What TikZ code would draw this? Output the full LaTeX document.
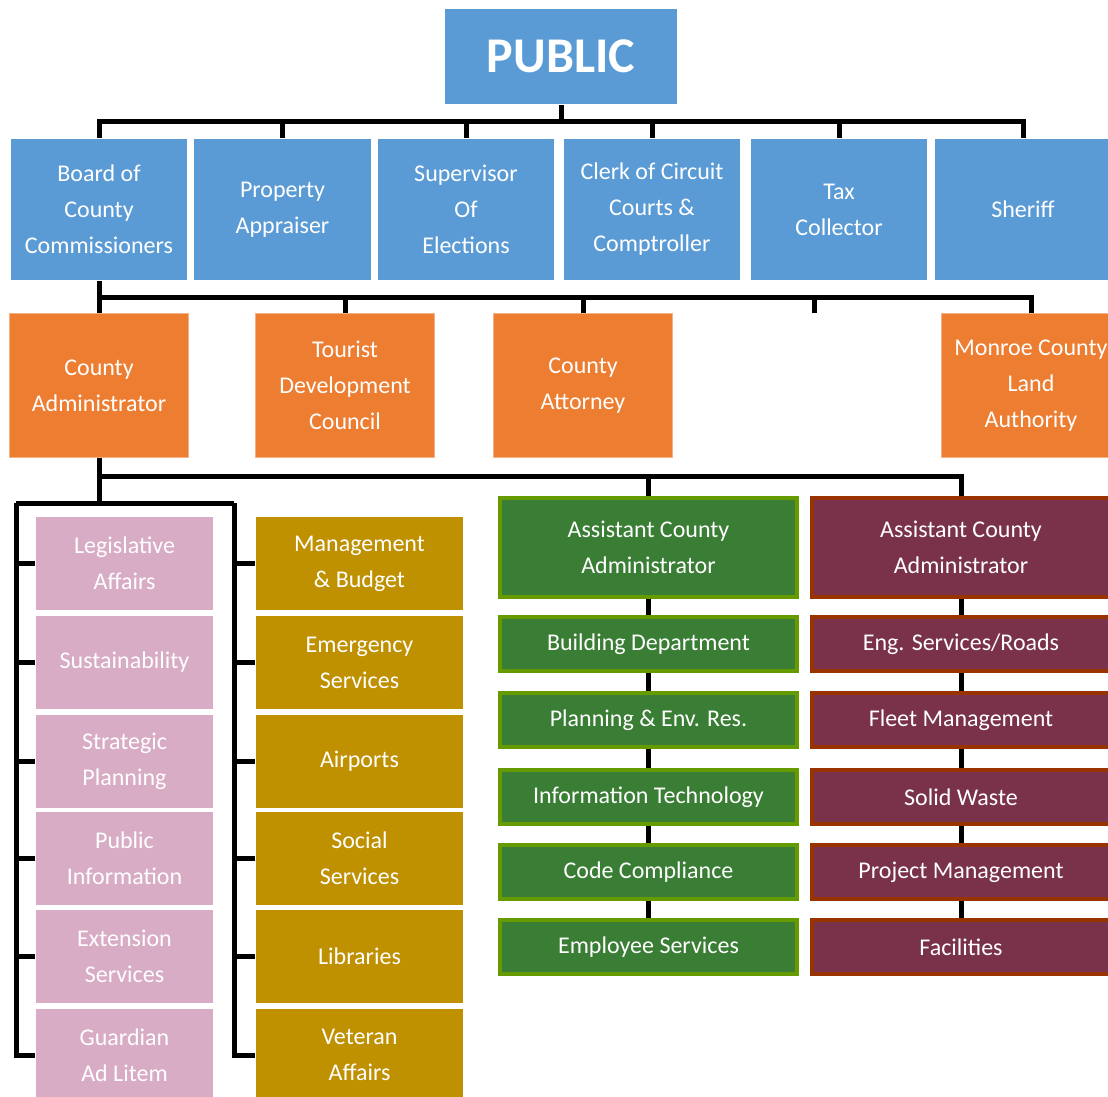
\documentclass[tikz,border=0pt]{standalone}
\usepackage{fontspec}
\setmainfont{Carlito}
\usepackage{xcolor}

\definecolor{boardblue}{RGB}{91,155,213}
\definecolor{officeorange}{RGB}{237,125,49}
\definecolor{staffpink}{RGB}{216,172,196}
\definecolor{deptgold}{RGB}{191,144,0}
\definecolor{acagreen}{RGB}{58,125,52}
\definecolor{acagreenline}{RGB}{102,155,0}
\definecolor{acamaroon}{RGB}{122,50,74}
\definecolor{acamaroonline}{RGB}{153,51,0}

\begin{document}
\begin{tikzpicture}[x=1pt,y=1pt,yscale=-1,
  box/.style={inner sep=0pt,align=center,text=white,font=\fontsize{24}{36}\selectfont},
  topbox/.style={box,fill=boardblue,draw=white,line width=1.5pt,minimum width=178,minimum height=142},
  officebox/.style={box,fill=officeorange,draw=officeorange!60!white,line width=0.8pt,minimum width=179,minimum height=144},
  pinkbox/.style={box,fill=staffpink,draw=white,line width=1pt,minimum width=178,minimum height=94},
  goldbox/.style={box,fill=deptgold,draw=white,line width=1pt,minimum width=208,minimum height=94},
  greenbox/.style={box,fill=acagreen,draw=acagreenline,line width=4pt,minimum width=297,minimum height=54},
  maroonbox/.style={box,fill=acamaroon,draw=acamaroonline,line width=4pt,minimum width=298,minimum height=54},
  wire/.style={line width=5pt,line join=miter}]
\useasboundingbox (0,0) rectangle (1108,1096);

%Shape: Rectangle -- top
\node[box,fill=boardblue,draw=white,line width=1pt,minimum width=233,minimum height=96,
  font=\fontsize{50}{60}\selectfont\bfseries] (public) at (561,56.5) {PUBLIC};

%Shape: Rectangle -- elected offices
\node[topbox] (board)   at (99,209.5)   {Board of\\County\\Commissioners};
\node[topbox] (prop)    at (282.5,209.5) {Property\\Appraiser};
\node[topbox] (super)   at (466,209.5)  {Supervisor\\Of\\Elections};
\node[topbox] (clerk)   at (652,209.5)  {Clerk of Circuit\\Courts \&\\Comptroller};
\node[topbox] (tax)     at (839,209.5)  {Tax\\Collector};
\node[topbox] (sheriff) at (1023,209.5) {Sheriff};

%Shape: Rectangle -- board appointees
\node[officebox] (cadmin) at (99,385.5)  {County\\Administrator};
\node[officebox] (tdc)    at (345,385.5) {Tourist\\Development\\Council};
\node[officebox] (atty)   at (583,385.5) {County\\Attorney};
\node[officebox] (land)   at (1031,385.5) {Monroe County\\Land\\Authority};

%Shape: Rectangle -- staff offices
\node[pinkbox] (legis)    at (124.5,563.5) {Legislative\\Affairs};
\node[pinkbox] (sustain)  at (124.5,662.5) {Sustainability};
\node[pinkbox] (strat)    at (124.5,761)   {Strategic\\Planning};
\node[pinkbox] (pubinfo)  at (124.5,858.5) {Public\\Information};
\node[pinkbox] (extserv)  at (124.5,956)   {Extension\\Services};
\node[pinkbox] (guardian) at (124.5,1055)  {Guardian\\Ad Litem};

\node[goldbox] (budget)   at (359.5,563.5) {Management\\\& Budget};
\node[goldbox] (emerg)    at (359.5,662.5) {Emergency\\Services};
\node[goldbox] (airports) at (359.5,761)   {Airports};
\node[goldbox] (social)   at (359.5,858.5) {Social\\Services};
\node[goldbox] (library)  at (359.5,956)   {Libraries};
\node[goldbox] (veteran)  at (359.5,1055)  {Veteran\\Affairs};

%Shape: Rectangle -- assistant administrators
\node[greenbox,minimum height=99] (acaG) at (648.5,547.5) {Assistant County\\Administrator};
\node[greenbox] (building) at (648.5,644) {Building Department};
\node[greenbox] (planning) at (648.5,720) {Planning \& Env. Res.};
\node[greenbox] (infotech) at (648.5,797) {Information Technology};
\node[greenbox] (codecomp) at (648.5,872) {Code Compliance};
\node[greenbox] (employee) at (648.5,947) {Employee Services};

\node[maroonbox,minimum height=99] (acaM) at (961,547.5) {Assistant County\\Administrator};
\node[maroonbox] (engroads) at (961,644) {Eng. Services/Roads};
\node[maroonbox] (fleet)    at (961,720) {Fleet Management};
\node[maroonbox] (solid)    at (961,797) {Solid Waste};
\node[maroonbox] (project)  at (961,872) {Project Management};
\node[maroonbox] (facility) at (961,947) {Facilities};

%Straight Lines -- public to offices
\draw[wire] (board.north) -- ++(0,-16) coordinate (busA) -| (sheriff.north);
\draw[wire] (public.south) -- (public.south |- busA);
\draw[wire] (prop.north) -- (prop.north |- busA);
\draw[wire] (super.north) -- (super.north |- busA);
\draw[wire] (clerk.north) -- (clerk.north |- busA);
\draw[wire] (tax.north) -- (tax.north |- busA);

%Straight Lines -- board to appointees
\draw[wire] (board.south) -- (cadmin.north);
\draw[wire] (cadmin.north) -- ++(0,-16) coordinate (busB) -| (land.north);
\draw[wire] (tdc.north) -- (tdc.north |- busB);
\draw[wire] (atty.north) -- (atty.north |- busB);
\coordinate (stub) at (814,313);
\draw[wire] (stub) -- (stub |- busB);

%Straight Lines -- administrator to departments
\draw[wire] (cadmin.south) -- ++(0,19) coordinate (busC) -| (acaM.north);
\draw[wire] (acaG.north) -- (acaG.north |- busC);
\coordinate (brL) at (16,503);
\coordinate (brR) at (234,503);
\draw[wire] (cadmin.south) -- (cadmin.south |- brL);
\draw[wire] (brL) -- (brR);
\draw[wire] (brL) |- (guardian.west);
\draw[wire] (brR) |- (veteran.west);
\draw[wire] (legis.west) -- (legis.west -| brL);
\draw[wire] (sustain.west) -- (sustain.west -| brL);
\draw[wire] (strat.west) -- (strat.west -| brL);
\draw[wire] (pubinfo.west) -- (pubinfo.west -| brL);
\draw[wire] (extserv.west) -- (extserv.west -| brL);
\draw[wire] (budget.west) -- (budget.west -| brR);
\draw[wire] (emerg.west) -- (emerg.west -| brR);
\draw[wire] (airports.west) -- (airports.west -| brR);
\draw[wire] (social.west) -- (social.west -| brR);
\draw[wire] (library.west) -- (library.west -| brR);

%Straight Lines -- assistant chains
\draw[wire] (acaG.south) -- (building.north);
\draw[wire] (building.south) -- (planning.north);
\draw[wire] (planning.south) -- (infotech.north);
\draw[wire] (infotech.south) -- (codecomp.north);
\draw[wire] (codecomp.south) -- (employee.north);
\draw[wire] (acaM.south) -- (engroads.north);
\draw[wire] (engroads.south) -- (fleet.north);
\draw[wire] (fleet.south) -- (solid.north);
\draw[wire] (solid.south) -- (project.north);
\draw[wire] (project.south) -- (facility.north);

\end{tikzpicture}
\end{document}
